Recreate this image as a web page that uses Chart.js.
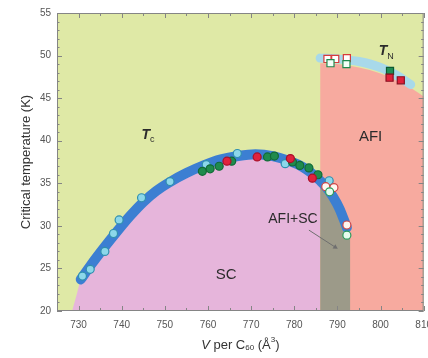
<!DOCTYPE html>
<html>
<head>
<meta charset="utf-8">
<script src="https://cdn.jsdelivr.net/npm/chart.js@4.4.1/dist/chart.umd.min.js"></script>
<style>
  html, body { margin: 0; padding: 0; background: #fff; }
  #wrap { width: 428px; height: 358px; overflow: hidden; }
</style>
</head>
<body>
<div id="wrap"><canvas id="chart" width="440" height="358"></canvas></div>
<script>
const X_TICKS = [730, 740, 750, 760, 770, 780, 790, 800, 810];
const Y_TICKS = [20, 25, 30, 35, 40, 45, 50, 55];

// Tc dome, centre of the blue band
const DOME_V = [730.5,733,736,739,742,745,748,751,755,759,763,767,771,775,779,782,784,786,787.5,789,790.5,792.2];
const DOME_T = [23.7,25.5,27.5,29.4,31.2,32.8,34.1,35.1,36.2,37.1,37.8,38.2,38.4,38.2,37.6,36.9,36.2,35.3,34.5,33.4,32.0,29.8];
// foot of the SC region below the first point
const SC_FOOT_V = [728.5, 729.7];
const SC_FOOT_T = [20, 22.2];
// AFI+SC column
const MIX_LEFT = 786;
const MIX_END_V = [793];
const MIX_END_T = [29.0];
// upper edge of AFI region and the TN band
const AFI_V = [786, 790, 795, 800, 805, 810];
const AFI_T = [49.1, 49.0, 48.6, 47.9, 46.8, 45.2];
const TN_V = [786, 790, 795, 800, 804, 807];
const TN_T = [49.7, 49.6, 49.3, 48.6, 47.6, 46.6];

// Tc points
const CYAN_V = [730.9,732.7,736.1,738.1,739.4,744.6,751.2,759.6,766.8,777.9,788.1];
const CYAN_T = [24.1,24.9,27.0,29.1,30.7,33.3,35.2,37.2,38.5,37.3,35.3];
const GREEN_V = [758.7,760.5,762.6,765.5,773.8,775.4,779.6,781.3,783.4,785.5];
const GREEN_T = [36.4,36.7,37.0,37.6,38.1,38.2,37.5,37.1,36.8,36.0];
const RED_V = [764.4,771.4,779.1,784.2];
const RED_T = [37.6,38.1,37.9,35.6];
const OPEN_R_V = [787.3,789.2,792.2];
const OPEN_R_T = [34.6,34.5,30.1];
const OPEN_G_V = [788.2,792.2];
const OPEN_G_T = [34.0,28.9];

// TN points
const TN_OPEN_R_V = [787.7,789.5,792.2];
const TN_OPEN_R_T = [49.6,49.6,49.7];
const TN_OPEN_G_V = [788.4,792.1];
const TN_OPEN_G_T = [49.1,49.0];
const TN_GREEN_V = [802.2];
const TN_GREEN_T = [48.2];
const TN_RED_V = [802.1,804.7];
const TN_RED_T = [47.4,47.1];

// arrow from the AFI+SC label into the column
const ARROW_V = [783.4, 789.5];
const ARROW_T = [29.5, 27.5];

const FONT = '"Liberation Sans", Arial, sans-serif';

function pts(vs, ts) { return vs.map((v, i) => ({ x: v, y: ts[i] })); }

const dome = pts(DOME_V, DOME_T);
const scArea = pts(SC_FOOT_V, SC_FOOT_T).concat(dome.filter(p => p.x <= MIX_LEFT));
const mixArea = dome.filter(p => p.x >= MIX_LEFT).concat(pts(MIX_END_V, MIX_END_T));

function area(data, color, order) {
  return { data, backgroundColor: color, borderWidth: 0, pointRadius: 0, fill: "start",
           cubicInterpolationMode: "monotone", order };
}
function marks(data, fill, edge, style, r, order) {
  return { data, showLine: false, pointStyle: style, pointRadius: r, pointBackgroundColor: fill,
           pointBorderColor: edge, pointBorderWidth: 1.2, order };
}

const decor = {
  id: "decor",
  beforeDraw(chart) {
    const { ctx, chartArea: a } = chart;
    ctx.save();
    ctx.fillStyle = "#dfe9a6";
    ctx.fillRect(a.left, a.top, a.right - a.left, a.bottom - a.top);
    ctx.restore();
  },
  afterDatasetsDraw(chart) {
    const { ctx, chartArea: a, scales: { x, y } } = chart;
    ctx.save();
    ctx.strokeStyle = "#858585";
    ctx.lineWidth = 1;
    ctx.strokeRect(a.left + 0.5, a.top + 0.5, a.right - a.left - 1, a.bottom - a.top - 1);
    ctx.beginPath();
    for (let v = 725; v <= 810; v += 5) {
      const px = Math.round(x.getPixelForValue(v)) + 0.5, len = v % 10 === 0 ? 5 : 3;
      ctx.moveTo(px, a.bottom); ctx.lineTo(px, a.bottom - len);
      ctx.moveTo(px, a.top); ctx.lineTo(px, a.top + len);
    }
    for (let t = 20; t <= 55; t += 1) {
      const py = Math.round(y.getPixelForValue(t)) + 0.5, len = t % 5 === 0 ? 5 : 2.5;
      ctx.moveTo(a.left, py); ctx.lineTo(a.left + len, py);
      ctx.moveTo(a.right, py); ctx.lineTo(a.right - len, py);
    }
    ctx.stroke();

    // labels inside the plot
    ctx.fillStyle = "#2b2b2b";
    ctx.textBaseline = "middle";
    const sym = (v, t, main, sub) => {
      const px = x.getPixelForValue(v), py = y.getPixelForValue(t);
      ctx.font = "italic bold 14px " + FONT;
      ctx.textAlign = "left";
      ctx.fillText(main, px, py);
      const w = ctx.measureText(main).width;
      ctx.font = "9px " + FONT;
      ctx.fillText(sub, px + w, py + 5);
    };
    sym(744.6, 40.7, "T", "c");
    sym(799.6, 50.5, "T", "N");
    ctx.textAlign = "center";
    ctx.font = "15px " + FONT;
    ctx.fillText("AFI", x.getPixelForValue(797.7), y.getPixelForValue(40.4));
    ctx.fillText("SC", x.getPixelForValue(764.2), y.getPixelForValue(24.2));
    ctx.font = "14px " + FONT;
    ctx.fillText("AFI+SC", x.getPixelForValue(779.7), y.getPixelForValue(30.8));

    // x axis title with italic V, subscript and superscript
    const parts = [
      { t: "V", f: "italic 13px " + FONT, dy: 0 },
      { t: " per C", f: "13px " + FONT, dy: 0 },
      { t: "60", f: "8px " + FONT, dy: 3 },
      { t: " (Å", f: "13px " + FONT, dy: 0 },
      { t: "3", f: "8px " + FONT, dy: -5 },
      { t: ")", f: "13px " + FONT, dy: 0 }
    ];
    ctx.fillStyle = "#333";
    ctx.textAlign = "left";
    let total = 0;
    parts.forEach(p => { ctx.font = p.f; p.w = ctx.measureText(p.t).width; total += p.w; });
    let cx = (a.left + a.right) / 2 - total / 2;
    parts.forEach(p => { ctx.font = p.f; ctx.fillText(p.t, cx, 345 + p.dy); cx += p.w; });
    ctx.restore();
  }
};

new Chart(document.getElementById("chart"), {
  type: "line",
  data: { datasets: [
    area(pts(AFI_V, AFI_T), "#f7aa9f", 20),
    area(scArea, "#e6b5db", 19),
    area(mixArea, "#9c9a89", 18),
    { data: pts(TN_V, TN_T), borderColor: "#a8d9ea", borderWidth: 9, borderCapStyle: "round",
      pointRadius: 0, fill: false, cubicInterpolationMode: "monotone", order: 17 },
    { data: dome, borderColor: "#3c7fd2", borderWidth: 10, borderCapStyle: "round",
      pointRadius: 0, fill: false, cubicInterpolationMode: "monotone", order: 16 },
    { data: pts(ARROW_V, ARROW_T), borderColor: "#6f6f6f", borderWidth: 1, fill: false,
      pointRadius: [0, 3], pointStyle: "triangle", rotation: 122, pointBackgroundColor: "#6f6f6f",
      pointBorderWidth: 0, order: 15 },
    marks(pts(CYAN_V, CYAN_T), "#8cd7ea", "#2f8fae", "circle", 4, 6),
    marks(pts(GREEN_V, GREEN_T), "#1f8b4d", "#116a36", "circle", 4, 5),
    marks(pts(RED_V, RED_T), "#e0223c", "#a8102a", "circle", 4, 4),
    marks(pts(OPEN_R_V, OPEN_R_T), "#fff6f0", "#d04545", "circle", 4, 3),
    marks(pts(OPEN_G_V, OPEN_G_T), "#e6fbee", "#2a9a5a", "circle", 4, 2),
    marks(pts(TN_OPEN_R_V, TN_OPEN_R_T), "#ffffff", "#d83a3a", "rect", 5, 3),
    marks(pts(TN_OPEN_G_V, TN_OPEN_G_T), "#f4fff8", "#1f8a4e", "rect", 5, 2),
    marks(pts(TN_GREEN_V, TN_GREEN_T), "#1f8d55", "#0d5a30", "rect", 5, 1),
    marks(pts(TN_RED_V, TN_RED_T), "#e0203a", "#8a1020", "rect", 5, 0)
  ]},
  options: {
    responsive: false, animation: false, devicePixelRatio: 1,
    layout: { padding: { top: 13, right: 14, bottom: 0, left: 0 } },
    plugins: { legend: { display: false }, tooltip: { enabled: false } },
    scales: {
      x: {
        type: "linear", min: 725, max: 810,
        afterBuildTicks: s => { s.ticks = X_TICKS.map(v => ({ value: v })); },
        afterFit: s => { s.height = 47; },
        grid: { display: false, drawTicks: false }, border: { display: false },
        ticks: { padding: 8, color: "#555", font: { family: FONT, size: 10 } }
      },
      y: {
        min: 20, max: 55,
        afterBuildTicks: s => { s.ticks = Y_TICKS.map(v => ({ value: v })); },
        afterFit: s => { s.width = 57; },
        grid: { display: false, drawTicks: false }, border: { display: false },
        ticks: { padding: 6, color: "#555", font: { family: FONT, size: 10 } },
        title: { display: true, text: "Critical temperature (K)", color: "#333",
                 font: { family: FONT, size: 13 }, padding: { top: 19, bottom: 0 } }
      }
    }
  },
  plugins: [decor]
});
</script>
</body>
</html>
